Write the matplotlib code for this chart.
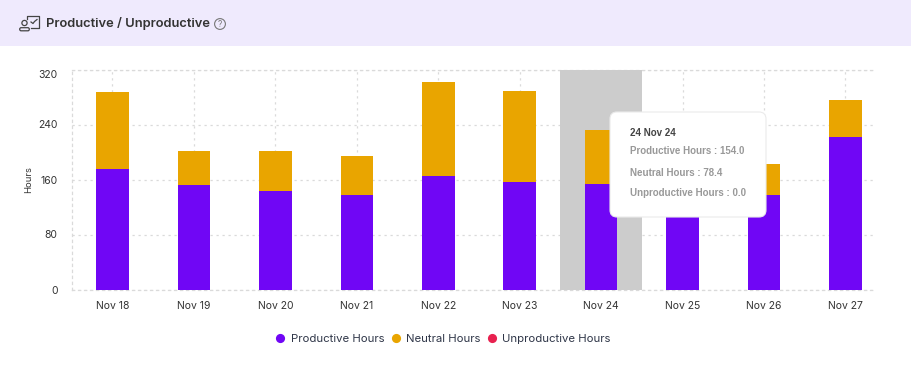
import matplotlib
matplotlib.use('Agg')
import matplotlib.pyplot as plt
from matplotlib.lines import Line2D
from matplotlib.patches import FancyBboxPatch, Rectangle, Circle
import numpy as np

plt.rcParams['font.family'] = ['Inter', 'DejaVu Sans']

# Data (Nov 25 is mostly behind the tooltip, so estimated)
days = ['Nov 18', 'Nov 19', 'Nov 20', 'Nov 21', 'Nov 22', 'Nov 23', 'Nov 24', 'Nov 25', 'Nov 26', 'Nov 27']
productive = [175, 152, 143, 138, 165, 157, 154.0, 150, 137.5, 222]
neutral = [112, 50, 58, 56, 137, 132, 78.4, 60, 45, 54]
unproductive = [0, 0, 0, 0, 0, 0, 0.0, 0, 0, 0]
yticks = [0, 80, 160, 240, 320]
tooltip_title = '24 Nov 24'
tooltip_lines = ['Productive Hours : 154.0', 'Neutral Hours : 78.4', 'Unproductive Hours : 0.0']

c_prod = '#7006F5'
c_neutral = '#E9A500'
c_unprod = '#E8214F'
c_grid = '#DADADA'
dots = (0, (1.8, 3))
W, H = 912, 370

fig = plt.figure(figsize=(W / 100, H / 100), dpi=100, facecolor='white')

# chart axes, placed by pixel
ax = fig.add_axes([72 / W, 1 - 289.5 / H, (873 - 72) / W, 220 / H])
x = np.arange(len(days))
ax.set_xlim(-0.497, 9.338)
ax.set_ylim(0, 320)
ax.axvspan(5.5, 6.5, color='#CCCCCC', lw=0, zorder=1)
ax.bar(x, productive, width=0.4, color=c_prod, zorder=2)
ax.bar(x, neutral, width=0.4, bottom=productive, color=c_neutral, zorder=2)
ax.bar(x, unproductive, width=0.4, bottom=np.add(productive, neutral), color=c_unprod, zorder=2)
ax.set_xticks(x, days)
ax.set_yticks(yticks)
ax.tick_params(length=0, labelsize=7.5, labelcolor='#333333')
ax.tick_params(axis='x', pad=8.5)
ax.tick_params(axis='y', pad=10.5)
# top label sits under its gridline in the reference
ax.get_yticklabels()[-1].set_va('top')
ax.grid(True, color=c_grid, linestyle=dots, linewidth=0.9, zorder=0)
ax.set_axisbelow(True)
ax.spines['right'].set_visible(False)
for name in ['top', 'bottom', 'left']:
    sp = ax.spines[name]
    sp.set_color(c_grid)
    sp.set_linestyle(dots)
    sp.set_linewidth(0.9)
    sp.set_zorder(0)

# overlay in pixel coordinates: header + tooltip
ov = fig.add_axes([0, 0, 1, 1], zorder=5)
ov.set_xlim(0, W)
ov.set_ylim(H, 0)
ov.axis('off')
ov.patch.set_alpha(0)

ov.add_patch(Rectangle((0, 0), W, 46, facecolor='#EFEAFD', edgecolor='none'))
ov.text(46, 23, 'Productive / Unproductive', fontsize=9.3, fontweight='semibold', color='#333333', va='center', ha='left')

# header icon
ic = '#444444'
ov.plot([27, 27, 39, 39, 31], [19, 15.5, 15.5, 28, 28], color=ic, lw=0.9)
ov.plot([31, 33, 34.5, 37], [22, 23.5, 21.5, 19.5], color=ic, lw=0.9)
ov.add_patch(Circle((24.5, 23), 2.6, fill=False, ec=ic, lw=0.9))
ov.add_patch(FancyBboxPatch((20, 28), 9, 2.5, boxstyle='round,pad=0.3,rounding_size=1.5', fill=False, ec=ic, lw=0.9))

# help icon
ov.add_patch(Circle((220, 24), 5.4, fill=False, ec='#777777', lw=0.8))
ov.text(220, 24.3, '?', fontsize=6, color='#777777', ha='center', va='center')

# y axis title
ov.text(29, 179.5, 'Hours', fontsize=6.8, color='#333333', rotation=90, ha='center', va='center')

# tooltip
ov.add_patch(FancyBboxPatch((616, 118), 144, 93, boxstyle='round,pad=6,rounding_size=7',
                            facecolor='white', edgecolor='#EBEBEB', linewidth=0.8))
ov.text(630, 133.5, tooltip_title, fontsize=7.0, fontweight='bold', family='Liberation Sans', color='#444444', va='center')
for y_px, line in zip([151.5, 172.5, 193.5], tooltip_lines):
    ov.text(630, y_px, line, fontsize=7.0, fontweight='bold', family='Liberation Sans', color='#999999', va='center')

# legend
handles = [Line2D([], [], marker='o', ls='none', ms=6.6, mew=0, color=c) for c in (c_prod, c_neutral, c_unprod)]
fig.legend(handles, ['Productive Hours', 'Neutral Hours', 'Unproductive Hours'],
           loc='center', bbox_to_anchor=(442 / W, 1 - 338.7 / H), ncol=3, frameon=False,
           fontsize=8.2, labelcolor='#2F3648', handlelength=1.2, handletextpad=0.3, columnspacing=0.4)

plt.savefig('out.png', dpi=100, facecolor='white')
